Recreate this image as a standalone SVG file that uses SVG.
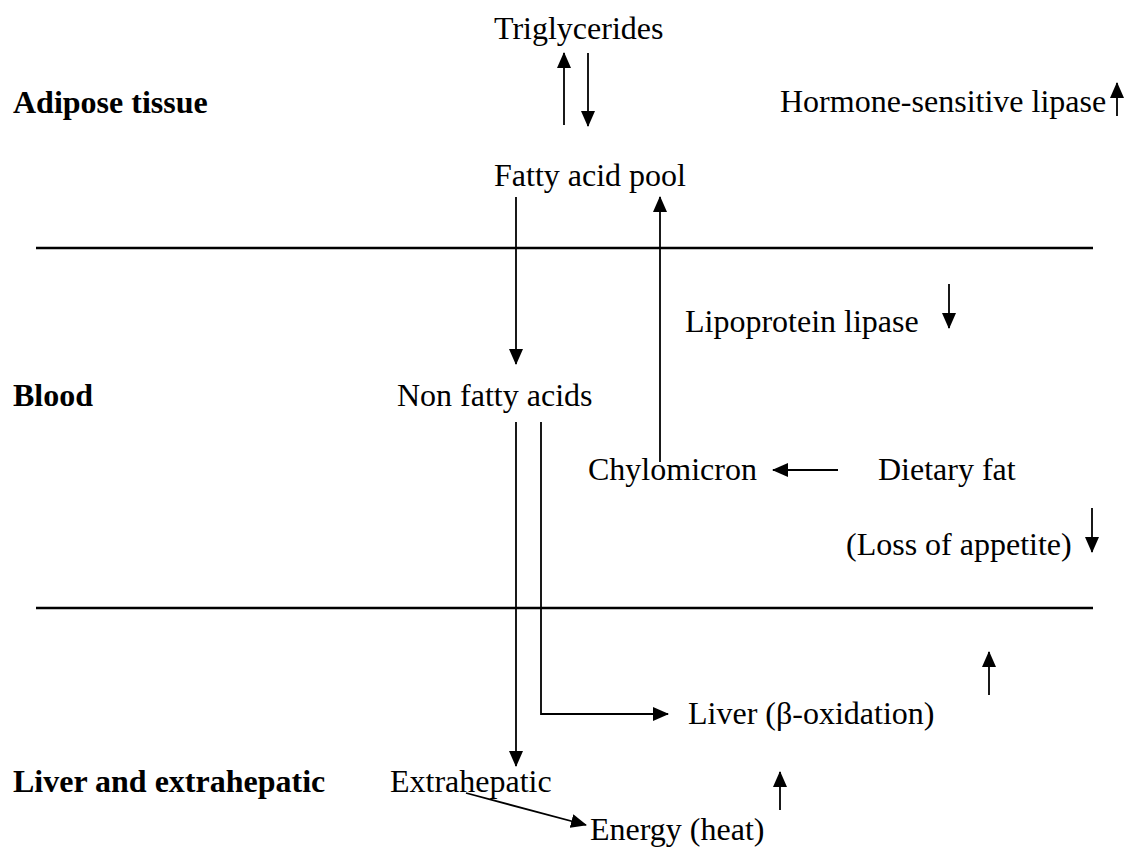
<svg xmlns="http://www.w3.org/2000/svg" width="1131" height="858" viewBox="0 0 1131 858">
<style>
text{font-family:"Liberation Serif","Times New Roman",serif;font-size:32px;fill:#000}
.b{font-weight:bold}
.sep{stroke:#000;stroke-width:2.6;fill:none}
.ar{stroke:#000;stroke-width:1.8;fill:none;marker-end:url(#ah)}
</style>
<defs>
<marker id="ah" viewBox="0 0 16 14" markerWidth="16" markerHeight="14" refX="15" refY="7" orient="auto" markerUnits="userSpaceOnUse">
<path d="M0,0 L16,7 L0,14 z" fill="#000"/>
</marker>
</defs>
<rect width="1131" height="858" fill="#fff"/>
<g id="regions">
<text class="b" x="13" y="113">Adipose tissue</text>
<text class="b" x="13" y="406">Blood</text>
<text class="b" x="13" y="792">Liver and extrahepatic</text>
<line class="sep" x1="36" y1="248" x2="1093" y2="248"/>
<line class="sep" x1="36" y1="608" x2="1093" y2="608"/>
</g>
<g id="triglycerides"><text x="494" y="39">Triglycerides</text></g>
<g id="hsl"><text x="780" y="112">Hormone-sensitive lipase</text></g>
<g id="fatty-acid-pool"><text x="494" y="186">Fatty acid pool</text></g>
<g id="lpl"><text x="685" y="332">Lipoprotein lipase</text></g>
<g id="nefa"><text x="397" y="406">Non fatty acids</text></g>
<g id="chylomicron"><text x="588" y="480">Chylomicron</text></g>
<g id="dietary-fat"><text x="878" y="480">Dietary fat</text></g>
<g id="appetite"><text x="846" y="555">(Loss of appetite)</text></g>
<g id="liver"><text x="688" y="724">Liver (β-oxidation)</text></g>
<g id="extrahepatic"><text x="390" y="792">Extrahepatic</text></g>
<g id="energy"><text x="590" y="840">Energy (heat)</text></g>
<g id="connectors">
<line class="ar" x1="564" y1="125" x2="564" y2="53"/>
<line class="ar" x1="588" y1="53" x2="588" y2="126"/>
<line class="ar" x1="1117" y1="116" x2="1117" y2="83"/>
<line class="ar" x1="516" y1="197" x2="516" y2="364"/>
<line class="ar" x1="660" y1="462" x2="660" y2="197"/>
<line class="ar" x1="949" y1="284" x2="949" y2="328"/>
<line class="ar" x1="838" y1="470" x2="773" y2="470"/>
<line class="ar" x1="1092" y1="508" x2="1092" y2="552"/>
<line class="ar" x1="516" y1="422" x2="516" y2="766"/>
<polyline class="ar" points="541,422 541,714 668,714"/>
<line class="ar" x1="989" y1="695" x2="989" y2="652"/>
<line class="ar" x1="466" y1="793" x2="586" y2="825"/>
<line class="ar" x1="780" y1="810" x2="780" y2="772"/>
</g>
</svg>
